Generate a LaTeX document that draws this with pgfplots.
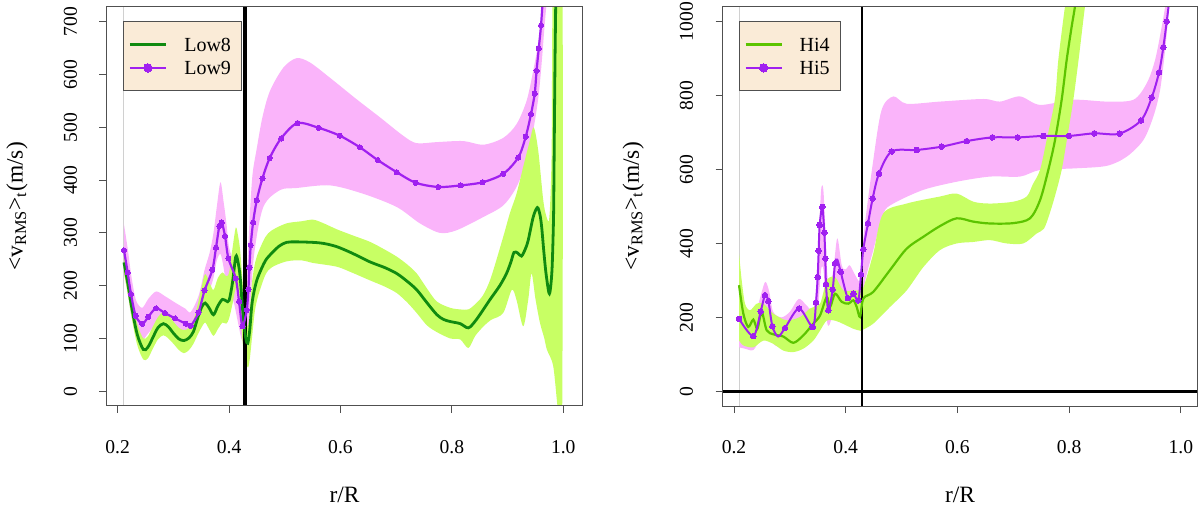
\documentclass[border=0pt]{standalone}
\usepackage{fontspec}
\setmainfont{Liberation Serif}
\usepackage{pgfplots}
\pgfplotsset{compat=1.18}
\definecolor{bandpink}{HTML}{FAB4FA}
\definecolor{bandgreen}{HTML}{C8FF64}
\definecolor{lowgreen}{HTML}{108A10}
\definecolor{higreen}{HTML}{5CC400}
\definecolor{purp}{HTML}{A020F0}
\definecolor{legbg}{HTML}{FAEBD7}
\definecolor{boxgray}{HTML}{505050}
\definecolor{vgray}{HTML}{D0D0D0}
\newcommand{\rfont}{\fontsize{9.8bp}{12bp}\selectfont}
\newcommand{\lfont}{\fontsize{11.7bp}{14bp}\selectfont}
\pgfplotsset{
  rpanel/.style={
    scale only axis,
    anchor=south west,
    height=199.5bp,
    axis on top,
    axis line style={boxgray, line width=0.5bp},
    every tick/.style={boxgray, line width=0.5bp},
    tick align=outside,
    tick pos=left,
    major tick length=3.5bp,
    xtick={0.2,0.4,0.6,0.8,1.0},
    xticklabels={0.2,0.4,0.6,0.8,1.0},
    xticklabel style={anchor=center, inner sep=0pt, font=\rfont},
    yticklabel style={rotate=90, anchor=center, inner sep=0pt, font=\rfont},
    xticklabel shift=17.3bp,
    yticklabel shift=14.5bp,
    xlabel={r/R},
    ylabel={<v\textsubscript{RMS}>\textsubscript{t}(m/s)},
    every axis x label/.style={at={(axis description cs:0.5,-0.223)}, anchor=center, font=\lfont},
    every axis y label/.style={at={(axis description cs:-0.188,0.5)}, anchor=center, rotate=90, font=\lfont},
    legend cell align=left,
    legend style={at={(axis description cs:0.0347,0.9645)}, anchor=north west,
      draw=boxgray, line width=0.5bp, fill=legbg, inner xsep=2.5bp, inner ysep=8bp,
      row sep=4.9bp, font=\fontsize{10bp}{12bp}\selectfont, nodes={inner sep=0pt, text height=6.8bp, text depth=0pt},
      /tikz/every odd column/.append style={column sep=8.5bp}},
    legend image code/.code={\draw[mark repeat=2,mark phase=2,##1,mark size=2.1bp] plot coordinates {(0bp,0bp)(9bp,0bp)(18bp,0bp)};},
  }
}
\begin{document}
\begin{tikzpicture}
\useasboundingbox (0,0) rectangle (600bp,252.5bp);
% ---------------- LEFT PANEL ----------------
\begin{axis}[rpanel, at={(53.25bp,49.5bp)}, width=238bp,
  xmin=0.1799, xmax=1.0345, ymin=-28, ymax=728,
  ytick={0,100,200,300,400,500,600,700},
  yticklabels={0,100,200,300,400,500,600,700}]
\addplot[vgray, line width=0.6bp, forget plot] coordinates {(0.21,-100) (0.21,900)};
% Low9 band (upper edge, then lower edge reversed)
\addplot[fill=bandpink, draw=none, smooth, forget plot] coordinates {
(0.211,318) (0.218,270) (0.225,215) (0.233,172) (0.244,158) (0.255,175) (0.269,189) (0.285,180) (0.303,168) (0.322,156) (0.331,150) (0.345,180) (0.356,230) (0.365,262) (0.372,300) (0.378,350) (0.3845,396) (0.390,360) (0.395,320) (0.400,272) (0.408,248) (0.415,222) (0.422,172) (0.428,150) (0.432,220) (0.437,330) (0.442,410) (0.449,456) (0.460,520) (0.4734,569) (0.4973,613) (0.521,631) (0.545,623) (0.581,594) (0.628,554) (0.6708,519) (0.7127,484) (0.7366,470) (0.7725,472) (0.8204,474) (0.8563,467) (0.8922,480) (0.916,506) (0.934,550) (0.946,607) (0.955,660) (0.962,720) (0.967,800)
(0.975,800) (0.967,700) (0.961,620) (0.9553,557) (0.946,494) (0.934,437) (0.916,387) (0.8922,352) (0.8563,330) (0.8084,305) (0.7785,300) (0.7426,318) (0.701,349) (0.641,374) (0.5811,390) (0.521,385) (0.4913,381) (0.4614,349) (0.445,260) (0.437,150) (0.432,95) (0.428,88) (0.422,100) (0.415,135) (0.408,170) (0.400,185) (0.395,200) (0.390,235) (0.3845,260) (0.378,248) (0.372,215) (0.365,190) (0.356,150) (0.345,120) (0.331,102) (0.322,105) (0.303,112) (0.285,118) (0.269,125) (0.255,110) (0.244,97) (0.233,110) (0.225,140) (0.218,185) (0.211,225)} -- cycle;
% Low8 band
\addplot[fill=bandgreen, draw=none, smooth, forget plot] coordinates {
(0.211,262) (0.218,225) (0.225,182) (0.235,128) (0.246,100) (0.254,104) (0.261,118) (0.272,140) (0.282,150) (0.291,144) (0.300,132) (0.310,120) (0.319,116) (0.328,120) (0.336,135) (0.344,165) (0.350,195) (0.357,222) (0.365,205) (0.372,192) (0.380,215) (0.388,225) (0.395,218) (0.400,225) (0.406,270) (0.412,310) (0.416,295) (0.420,265) (0.425,195) (0.430,130) (0.434,125) (0.437,150) (0.441,205) (0.446,240) (0.452,262) (0.465,292) (0.477,305) (0.503,318) (0.530,322) (0.551,325) (0.570,318) (0.593,307) (0.620,296) (0.653,283) (0.680,268) (0.701,255) (0.720,240) (0.737,223) (0.755,195) (0.773,170) (0.797,158) (0.815,155) (0.8295,155) (0.842,165) (0.856,182) (0.870,215) (0.892,292) (0.904,337) (0.916,374) (0.928,425) (0.940,475) (0.947,500) (0.955,456) (0.964,362) (0.970,330) (0.975,330) (0.979,450) (0.982,800) (0.998,800)
(0.998,-40) (0.991,-40) (0.982,47) (0.9705,79) (0.966,100) (0.958,130) (0.950,175) (0.943,223) (0.937,173) (0.928,123) (0.916,173) (0.9075,192) (0.892,148) (0.870,135) (0.856,122) (0.842,105) (0.8295,82) (0.815,98) (0.797,100) (0.773,112) (0.755,125) (0.737,148) (0.720,168) (0.701,186) (0.680,198) (0.653,210) (0.620,225) (0.593,236) (0.551,243) (0.530,248) (0.503,246) (0.477,235) (0.465,220) (0.452,180) (0.446,150) (0.441,100) (0.437,60) (0.434,45) (0.430,55) (0.425,85) (0.420,150) (0.416,180) (0.412,195) (0.406,165) (0.400,138) (0.395,128) (0.388,130) (0.380,118) (0.372,105) (0.364,118) (0.357,130) (0.350,120) (0.344,108) (0.336,90) (0.328,78) (0.319,72) (0.310,78) (0.300,90) (0.291,100) (0.282,106) (0.272,98) (0.261,76) (0.254,62) (0.246,60) (0.235,88) (0.225,140) (0.218,185) (0.211,226)} -- cycle;
\addplot[black, line width=2.2bp, forget plot] coordinates {(0.429,-100) (0.429,900)};
% Low8 line
\addplot[lowgreen, line width=1.4bp, smooth] coordinates {
(0.2113,244) (0.218,205) (0.225,160) (0.235,108) (0.246,79) (0.254,83) (0.261,97) (0.272,120) (0.282,128) (0.291,122) (0.300,110) (0.310,99) (0.319,96) (0.328,101) (0.336,113) (0.344,140) (0.351,160) (0.357,167) (0.364,158) (0.372,145) (0.380,162) (0.388,174) (0.395,171) (0.400,172) (0.406,205) (0.412,255) (0.416,245) (0.420,215) (0.425,145) (0.430,100) (0.4335,91) (0.437,115) (0.441,165) (0.446,195) (0.452,217) (0.465,247) (0.477,262) (0.490,275) (0.503,282) (0.520,283) (0.551,282) (0.570,280) (0.593,274) (0.620,262) (0.653,245) (0.680,234) (0.701,223) (0.720,208) (0.737,192) (0.755,168) (0.773,145) (0.785,136) (0.797,132) (0.815,128) (0.8295,120) (0.842,133) (0.856,154) (0.868,173) (0.886,200) (0.898,223) (0.906,245) (0.9115,263) (0.918,262) (0.925,256) (0.932,270) (0.937,286) (0.946,330) (0.9534,348) (0.958,335) (0.9612,311) (0.965,265) (0.969,223) (0.9743,186) (0.977,195) (0.980,236) (0.9825,330) (0.9834,425) (0.985,613) (0.9863,726) (0.987,800)};
\addlegendentry{Low8\hspace*{3bp}}
% Low9 line
\addplot[purp, line width=1.1bp, smooth, mark=*, mark size=1.3bp, mark options={fill=purp, draw=purp, line width=0pt}] coordinates {
(0.2113,267) (0.2179,225) (0.2239,184) (0.2323,143) (0.2443,128) (0.2550,141) (0.2688,157) (0.285,148) (0.303,138) (0.322,128) (0.331,124) (0.345,149) (0.356,191) (0.370,230) (0.3765,272) (0.3825,313) (0.3867,320) (0.3927,294) (0.3987,252) (0.4119,214) (0.4179,170) (0.4239,123) (0.4317,154) (0.4347,193) (0.4365,234) (0.4389,277) (0.4431,320) (0.4497,362) (0.4598,403) (0.473,442) (0.4934,479) (0.5227,508) (0.561,499) (0.599,484) (0.635,462) (0.6668,438) (0.701,415) (0.735,395) (0.7756,387) (0.8158,390) (0.8553,396) (0.8923,412) (0.9192,443) (0.9325,482) (0.942,525) (0.9487,564) (0.952,607) (0.956,650) (0.960,693) (0.963,740)};
\addlegendentry{Low9\hspace*{3bp}}
\end{axis}
% ---------------- RIGHT PANEL ----------------
\begin{axis}[rpanel, at={(361.25bp,49.5bp)}, width=237.5bp,
  xmin=0.1794, xmax=1.0299, ymin=-40, ymax=1040,
  ytick={0,200,400,600,800,1000},
  yticklabels={0,200,400,600,800,1000}]
\addplot[vgray, line width=0.6bp, forget plot] coordinates {(0.21,-100) (0.21,1200)};
% Hi5 band
\addplot[fill=bandpink, draw=none, smooth, forget plot] coordinates {
(0.209,264) (0.22,215) (0.235,195) (0.248,260) (0.256,296) (0.263,270) (0.270,215) (0.285,200) (0.300,215) (0.316,250) (0.330,232) (0.342,220) (0.348,300) (0.352,420) (0.356,545) (0.360,545) (0.364,420) (0.367,320) (0.371,280) (0.378,330) (0.385,414) (0.393,340) (0.400,330) (0.407,341) (0.415,320) (0.4226,300) (0.428,300) (0.432,420) (0.4494,626) (0.4644,762) (0.4853,798) (0.5092,778) (0.5688,784) (0.6465,791) (0.6763,784) (0.7121,798) (0.7479,775) (0.8077,789) (0.8674,784) (0.9152,789) (0.9391,834) (0.954,897) (0.966,988) (0.972,1042) (0.976,1100)
(0.981,1100) (0.978,1024) (0.972,925) (0.963,816) (0.951,744) (0.9331,680) (0.9033,635) (0.8674,610) (0.8077,603) (0.7479,599) (0.7121,581) (0.6584,581) (0.5987,567) (0.539,545) (0.4853,508) (0.4674,481) (0.4494,382) (0.435,300) (0.428,225) (0.4226,205) (0.415,215) (0.407,225) (0.400,220) (0.393,260) (0.385,290) (0.378,220) (0.371,180) (0.367,185) (0.364,250) (0.360,330) (0.356,330) (0.352,250) (0.348,180) (0.342,140) (0.330,150) (0.316,180) (0.300,140) (0.285,120) (0.270,130) (0.263,180) (0.256,200) (0.248,150) (0.235,112) (0.22,115) (0.209,119)} -- cycle;
% Hi4 band
\addplot[fill=bandgreen, draw=none, smooth, forget plot] coordinates {
(0.209,373) (0.2137,301) (0.2197,237) (0.2286,219) (0.2406,237) (0.2526,237) (0.2705,210) (0.2943,192) (0.3182,201) (0.3361,224) (0.354,237) (0.366,300) (0.381,309) (0.3957,273) (0.4137,273) (0.4256,273) (0.432,282) (0.4494,373) (0.467,481) (0.5092,508) (0.5688,527) (0.5987,535) (0.6285,513) (0.6584,508) (0.7001,513) (0.724,527) (0.735,560) (0.7479,599) (0.7598,680) (0.7745,789) (0.7807,897) (0.7927,1042) (0.80,1100)
(0.835,1100) (0.8285,1042) (0.818,910) (0.8076,789) (0.797,690) (0.7867,599) (0.775,530) (0.765,480) (0.755,440) (0.7419,427) (0.7181,400) (0.6882,400) (0.6584,409) (0.6285,404) (0.5987,400) (0.5688,382) (0.539,336) (0.5092,273) (0.4793,228) (0.4494,183) (0.4286,165) (0.4256,164) (0.4137,169) (0.3957,182) (0.381,191) (0.366,191) (0.354,164) (0.342,137) (0.324,115) (0.3062,106) (0.2883,110) (0.2705,128) (0.2526,137) (0.2346,119) (0.2167,124) (0.209,138)} -- cycle;
\addplot[black, line width=1.3bp, forget plot] coordinates {(0.429,-100) (0.429,1200)};
\addplot[black, line width=1.3bp, forget plot] coordinates {(0.1,0) (1.1,0)};
% Hi4 line
\addplot[higreen, line width=1.1bp, smooth] coordinates {
(0.209,287) (0.2167,210) (0.2255,174) (0.2346,194) (0.2418,169) (0.2496,214) (0.2585,165) (0.2705,154) (0.2883,148) (0.3062,131) (0.324,151) (0.342,183) (0.354,205) (0.366,255) (0.372,228) (0.381,264) (0.3928,242) (0.4047,237) (0.4137,246) (0.4197,228) (0.4256,201) (0.4316,251) (0.4494,269) (0.4793,328) (0.5092,386) (0.539,418) (0.5688,447) (0.5987,468) (0.6285,459) (0.6584,454) (0.7001,455) (0.73,468) (0.7479,517) (0.7628,599) (0.7748,680) (0.7867,789) (0.7957,897) (0.8047,988) (0.8106,1042) (0.815,1100)};
\addlegendentry{Hi4\hspace*{3bp}}
% Hi5 line + marks
\addplot[purp, line width=1bp, smooth, forget plot] coordinates {
(0.209,196) (0.2346,149) (0.2478,216) (0.2555,260) (0.2615,244) (0.2687,176) (0.279,148) (0.2913,171) (0.3164,224) (0.3409,174) (0.3468,240) (0.3498,309) (0.3516,380) (0.3534,450) (0.3581,499) (0.3617,429) (0.3635,359) (0.3647,290) (0.3689,219) (0.3767,275) (0.3808,346) (0.385,356) (0.391,323) (0.4038,252) (0.4137,264) (0.4226,246) (0.4274,316) (0.4315,384) (0.4399,454) (0.4483,522) (0.4596,589) (0.4824,649) (0.5271,653) (0.5719,662) (0.6166,677) (0.6625,687) (0.708,687) (0.7538,691) (0.7998,691) (0.8451,698) (0.8899,697) (0.9287,733) (0.9479,795) (0.961,863) (0.9687,931) (0.9748,1001) (0.9795,1060) (0.982,1100)};
\addplot[purp, only marks, mark=*, mark size=1.4bp, mark options={fill=purp, draw=purp, line width=0pt}, forget plot] coordinates {
(0.209,196) (0.2346,149) (0.2478,216) (0.2555,260) (0.2615,244) (0.2687,176) (0.2913,171) (0.3164,224) (0.3409,174) (0.3468,240) (0.3498,309) (0.3516,380) (0.3534,450) (0.3581,499) (0.3617,429) (0.3635,359) (0.3647,290) (0.3689,219) (0.3767,275) (0.3808,346) (0.391,323) (0.4038,252) (0.4137,264) (0.4226,246) (0.4274,316) (0.4315,384) (0.4399,454) (0.4483,522) (0.4596,589) (0.4824,649) (0.5271,653) (0.5719,662) (0.6166,677) (0.6625,687) (0.708,687) (0.7538,691) (0.7998,691) (0.8451,698) (0.8899,697) (0.9287,733) (0.9479,795) (0.961,863) (0.9687,931) (0.9748,1001)};
\addlegendimage{purp, line width=1bp, mark=*, mark options={fill=purp, draw=purp, line width=0pt}}
\addlegendentry{Hi5\hspace*{3bp}}
\end{axis}
\end{tikzpicture}
\end{document}
